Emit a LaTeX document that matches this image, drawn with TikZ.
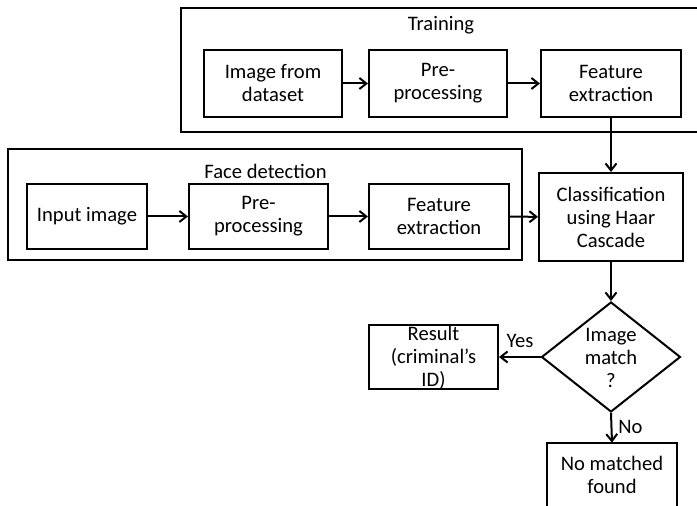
\documentclass[tikz,border=0pt]{standalone}
\usepackage{fontspec}
\setmainfont{Carlito}
\usetikzlibrary{arrows.meta,shapes.geometric}
\begin{document}
\begin{tikzpicture}[x=0.5pt,y=-0.5pt,
  txt/.style={font=\fontsize{10.3}{11.5}\selectfont,align=center,inner sep=0pt},
  box/.style={txt,draw,line width=1pt},
  frame/.style={draw,line width=1pt},
  arr/.style={line width=1pt,-{Straight Barb[length=3.5pt,width=5.5pt]}}]
\useasboundingbox (0,0) rectangle (697,506);
% frames
\draw[frame] (697,8) -- (181,8) -- (181,132) -- (697,132);
\node[txt] (trainlbl) at (441,25.5) {Training};
\draw[frame] (8,149) rectangle (522,260);
\node[txt] (facelbl) at (265.5,171) {Face detection};
% training row
\node[box,minimum width=69pt,minimum height=33.5pt] (dataset) at (273,83.5) {Image from\\dataset};
\node[box,minimum width=69pt,minimum height=33.5pt] (pre1) at (438,83.5) {Pre-\\processing};
\node[box,minimum width=70pt,minimum height=33.5pt] (feat1) at (611,83.5) {Feature\\extraction};
% face row
\node[box,minimum width=60pt,minimum height=32.5pt] (input) at (87,216.5) {Input image};
\node[box,minimum width=69.5pt,minimum height=32.5pt] (pre2) at (258.5,216.5) {Pre-\\processing};
\node[box,minimum width=70pt,minimum height=32.5pt] (feat2) at (439,216.5) {Feature\\extraction};
\node[box,minimum width=72pt,minimum height=44pt] (class) at (611,217) {Classification\\using Haar\\Cascade};
% decision
\node[draw,line width=1pt,diamond,inner sep=0pt,minimum width=69.5pt,minimum height=55pt] (dia) at (611,357) {};
\node[txt] (dialbl) at (611,358) {Image\\match\\?};
\node[draw,line width=1pt,minimum width=64.5pt,minimum height=32pt,inner sep=0pt] (result) at (433.5,357) {};
\node[txt] (reslbl) at (433.5,358) {Result\\(criminal’s\\ID)};
\node[txt,minimum width=65pt,minimum height=32pt] (nomatch) at (612,475) {No matched\\found};
\draw[frame] (nomatch.south west) -- (nomatch.north west) -- (nomatch.north east) -- (nomatch.south east);
% arrows
\draw[arr] (dataset) -- (pre1);
\draw[arr] (pre1) -- (feat1);
\draw[arr] (feat1) -- (class);
\draw[arr] (input) -- (pre2);
\draw[arr] (pre2) -- (feat2);
\draw[arr] (feat2) -- (class);
\draw[arr] (class) -- (dia);
\draw[arr] (dia.west) -- (result.east);
\draw[arr] (dia.south) -- (nomatch.north);
\node[txt] (yes) at (520,341) {Yes};
\node[txt,anchor=west] (no) at (618,427) {No};
\end{tikzpicture}
\end{document}
